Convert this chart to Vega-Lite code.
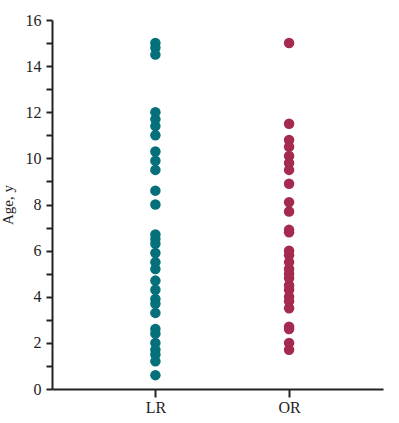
{
  "$schema": "https://vega.github.io/schema/vega-lite/v6.json",
  "width": 331,
  "height": 369,
  "autosize": "none",
  "padding": {"left": 52, "top": 20, "right": 16, "bottom": 34},
  "background": "white",
  "config": {"view": {"stroke": null}, "font": "Liberation Serif"},
  "data": {"values": [
    {"g": "LR", "age": 15.0}, {"g": "LR", "age": 14.8}, {"g": "LR", "age": 14.5},
    {"g": "LR", "age": 12.0}, {"g": "LR", "age": 11.7}, {"g": "LR", "age": 11.4}, {"g": "LR", "age": 11.0},
    {"g": "LR", "age": 10.3}, {"g": "LR", "age": 9.9}, {"g": "LR", "age": 9.5},
    {"g": "LR", "age": 8.6}, {"g": "LR", "age": 8.0},
    {"g": "LR", "age": 6.7}, {"g": "LR", "age": 6.5}, {"g": "LR", "age": 6.3}, {"g": "LR", "age": 5.9},
    {"g": "LR", "age": 5.5}, {"g": "LR", "age": 5.2}, {"g": "LR", "age": 4.7}, {"g": "LR", "age": 4.3},
    {"g": "LR", "age": 3.9}, {"g": "LR", "age": 3.7}, {"g": "LR", "age": 3.3},
    {"g": "LR", "age": 2.6}, {"g": "LR", "age": 2.4}, {"g": "LR", "age": 2.0}, {"g": "LR", "age": 1.7},
    {"g": "LR", "age": 1.5}, {"g": "LR", "age": 1.2}, {"g": "LR", "age": 0.6},
    {"g": "OR", "age": 15.0}, {"g": "OR", "age": 11.5}, {"g": "OR", "age": 10.8}, {"g": "OR", "age": 10.5},
    {"g": "OR", "age": 10.1}, {"g": "OR", "age": 9.8}, {"g": "OR", "age": 9.5}, {"g": "OR", "age": 8.9},
    {"g": "OR", "age": 8.1}, {"g": "OR", "age": 7.7}, {"g": "OR", "age": 6.9}, {"g": "OR", "age": 6.8},
    {"g": "OR", "age": 6.0}, {"g": "OR", "age": 5.8}, {"g": "OR", "age": 5.5}, {"g": "OR", "age": 5.2},
    {"g": "OR", "age": 5.0}, {"g": "OR", "age": 4.8}, {"g": "OR", "age": 4.5}, {"g": "OR", "age": 4.3},
    {"g": "OR", "age": 4.0}, {"g": "OR", "age": 3.8}, {"g": "OR", "age": 3.5},
    {"g": "OR", "age": 2.7}, {"g": "OR", "age": 2.6}, {"g": "OR", "age": 2.0}, {"g": "OR", "age": 1.7}
  ]},
  "mark": {"type": "circle", "size": 110, "opacity": 1},
  "encoding": {
    "x": {
      "field": "g", "type": "nominal",
      "scale": {"type": "point", "padding": 0.738, "align": 0.524},
      "axis": {
        "title": null, "labelAngle": 0, "labelFont": "Liberation Serif", "labelFontSize": 16,
        "labelColor": "#222", "domainColor": "#222", "domainWidth": 2, "tickColor": "#222",
        "tickWidth": 2, "tickSize": 8, "labelPadding": 2, "grid": false
      }
    },
    "y": {
      "field": "age", "type": "quantitative",
      "scale": {"domain": [0, 16], "nice": false},
      "axis": {
        "title": "Age, y", "titleFont": "Liberation Serif", "titleFontSize": 15, "titleFontWeight": "normal",
        "titleColor": "#222", "titlePadding": 10,
        "values": [0,1,2,3,4,5,6,7,8,9,10,11,12,13,14,15,16],
        "labelExpr": "datum.value % 2 == 0 ? datum.label : ''",
        "labelFont": "Liberation Serif", "labelFontSize": 16, "labelColor": "#222", "labelPadding": 5,
        "domainColor": "#222", "domainWidth": 2, "tickColor": "#222", "tickWidth": 2, "tickSize": 6,
        "grid": false
      }
    },
    "color": {
      "field": "g", "type": "nominal",
      "scale": {"domain": ["LR", "OR"], "range": ["#05707A", "#A52A4F"]},
      "legend": null
    }
  }
}
